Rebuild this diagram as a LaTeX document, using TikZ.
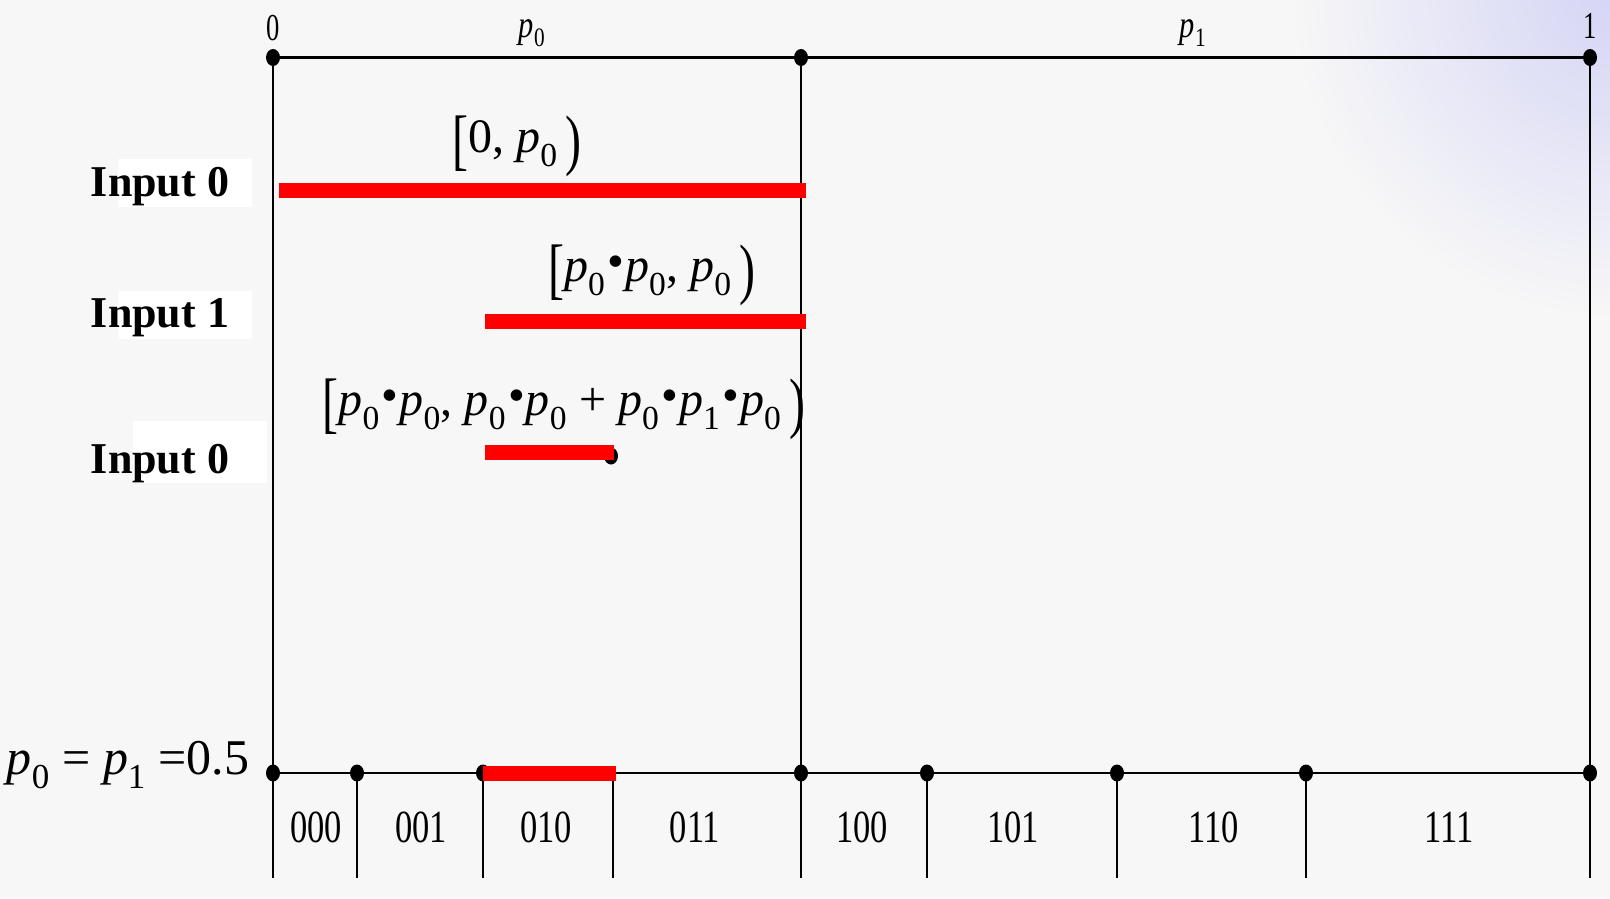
\documentclass[tikz,border=0pt]{standalone}
\usepackage{fontspec}
\setmainfont{Liberation Serif}
\definecolor{bgc}{HTML}{F7F7F7}
\definecolor{redbar}{HTML}{FF0000}
\definecolor{tint}{HTML}{D4D4F6}
\newcommand{\pv}[1]{\textit{p}\textsubscript{#1}}
\newcommand{\tb}[1]{\raisebox{-0.2em}{\scalebox{1}[1.4]{#1}}}
\newcommand{\bul}{\kern0.04em\raisebox{0.08em}{•}\kern0.02em}
\begin{document}
\begin{tikzpicture}[x=1pt,y=-1pt,
  axisline/.style={line width=2.6pt, black},
  tickline/.style={line width=2.3pt, black},
  redseg/.style={line width=15pt, redbar},
  whitebox/.style={fill=white, draw=none},
  inlabel/.style={font=\bfseries\fontsize{44}{44}\selectfont, inner sep=0pt},
  formula/.style={font=\fontsize{48}{48}\selectfont, inner sep=0pt},
  toplabel/.style={font=\fontsize{38}{38}\selectfont, inner sep=0pt},
  binlabel/.style={font=\fontsize{46}{46}\selectfont, inner sep=0pt}]
% background
\fill[bgc] (0,0) rectangle (1610,898);
\useasboundingbox (0,0) rectangle (1610,898);
\begin{scope}
\clip (0,0) rectangle (1610,898);
\shade[inner color=tint, outer color=bgc] (1620,-10) circle (330pt);
\end{scope}
% coordinates
\coordinate (TL) at (273,57.5);
\coordinate (TM) at (801,57.5);
\coordinate (TR) at (1590,57.5);
\coordinate (BL) at (273,773);
\coordinate (BM) at (801,773);
\coordinate (BR) at (1590,773);
\coordinate (EL) at (273,878);
\coordinate (EM) at (801,878);
\coordinate (ER) at (1590,878);
\foreach \n/\x in {a/357,b/483,c/613,d/927,e/1117,f/1306}{
  \coordinate (B\n) at (\x,773);
  \coordinate (E\n) at (\x,878);
}
% white boxes behind labels
\fill[whitebox] (118,159) rectangle (252,207);
\fill[whitebox] (118,291) rectangle (252,339);
\fill[whitebox] (133,421) rectangle (267,483);
% axes
\draw[axisline] (TL) -- (TR);
\draw[axisline] (BL) -- (BR);
\draw[tickline] (TL) -- (EL);
\draw[tickline] (TM) -- (EM);
\draw[tickline] (TR) -- (ER);
\foreach \n in {a,b,c,d,e,f}{ \draw[tickline] (B\n) -- (E\n); }
% dots
\coordinate (D3) at (611,456);
\foreach \c in {TL,TM,TR,BL,BM,BR,Ba,Bb,Bd,Be,Bf}{ \fill[black] (\c) ellipse (7pt and 8.5pt); }
\fill[black] (D3) ellipse (7pt and 8.5pt);
% red intervals
\coordinate (R1a) at (279,190); \coordinate (R1b) at (806,190);
\coordinate (R2a) at (485,321); \coordinate (R2b) at (806,321);
\coordinate (R3a) at (485,452); \coordinate (R3b) at (614,452);
\coordinate (R4a) at (483,773); \coordinate (R4b) at (616,773);
\draw[redseg] (R1a) -- (R1b);
\draw[redseg] (R2a) -- (R2b);
\draw[redseg] (R3a) -- (R3b);
\draw[redseg] (R4a) -- (R4b);
% input labels
\node[inlabel] (in0) at (160,187) {Input 0};
\node[inlabel] (in1) at (160,318) {Input 1};
\node[inlabel] (in2) at (160,464) {Input 0};
% formulas
\node[formula] (f1) at (517,146) {\tb{[}0, \pv{0}\,\tb{)}};
\node[formula] (f2) at (652,275) {\tb{[}\pv{0}\bul\pv{0}, \pv{0}\,\tb{)}};
\node[formula] (f3) at (564,409) {\tb{[}\pv{0}\bul\pv{0}, \pv{0}\bul\pv{0} + \pv{0}\bul\pv{1}\bul\pv{0}\,\tb{)}};
\node[formula, font=\fontsize{50}{50}\selectfont] (pq) at (128,765) {\pv{0} = \pv{1} =0.5};
% top labels
\node[toplabel] (t0) at (273,28) {\scalebox{0.7}[1]{0}};
\node[toplabel] (tp0) at (532,33) {\scalebox{0.8}[1]{\pv{0}}};
\node[toplabel] (tp1) at (1193,33) {\scalebox{0.8}[1]{\pv{1}}};
\node[toplabel] (t1) at (1590,26) {\scalebox{0.7}[1]{1}};
% bin labels
\foreach \nm/\x/\t in {l0/316/000,l1/421/001,l2/546/010,l3/695/011,l4/862/100,l5/1013/101,l6/1214/110,l7/1449/111}{
  \node[binlabel] (\nm) at (\x,827) {\scalebox{0.75}[1]{\t}};
}
\end{tikzpicture}
\end{document}
